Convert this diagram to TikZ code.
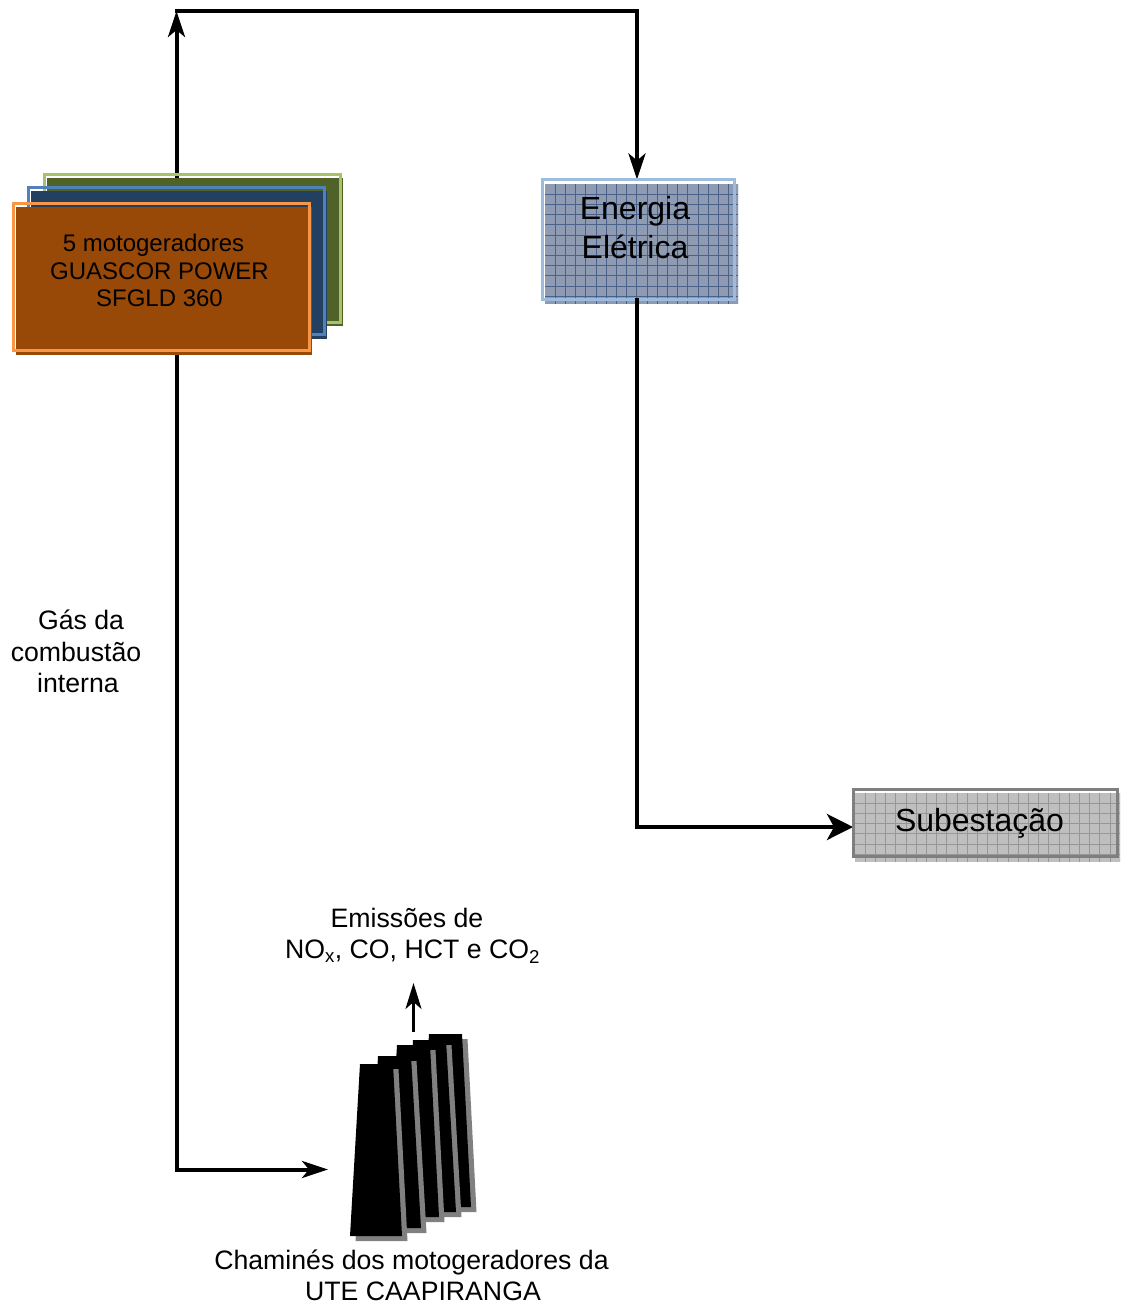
\documentclass[tikz,border=0pt]{standalone}
\usepackage{fontspec}
\setmainfont{Liberation Sans}
\usetikzlibrary{arrows.meta,calc}
\definecolor{brownF}{HTML}{984807}
\definecolor{orangeL}{HTML}{F79646}
\definecolor{navyF}{HTML}{244061}
\definecolor{blueL}{HTML}{4F81BD}
\definecolor{oliveF}{HTML}{4F6228}
\definecolor{greenL}{HTML}{A6C36A}
\definecolor{steelF}{HTML}{8E9BB3}
\definecolor{steelG}{HTML}{4A628A}
\definecolor{steelL}{HTML}{9DBBDD}
\definecolor{greyF}{HTML}{BFBFBF}
\definecolor{greyG}{HTML}{979797}
\definecolor{greyL}{HTML}{7F7F7F}
\definecolor{chimS}{HTML}{808080}
\pgfdeclarelayer{back}
\pgfsetlayers{back,main}
\tikzset{
  x=1pt,y=-1pt,
  boxline/.style={draw,line width=3pt,fill=none,inner sep=0pt,outer sep=0pt},
  label24/.style={font=\fontsize{24}{27.5}\selectfont,align=center,inner sep=0pt},
  label27/.style={font=\fontsize{26.67}{31.5}\selectfont,align=center,inner sep=0pt},
  label32/.style={font=\fontsize{32}{39}\selectfont,align=center,inner sep=0pt},
  flow/.style={line width=4pt,-{Stealth[length=26pt,width=#1,inset=7pt]}},
  flow/.default=17pt,
  plainline/.style={line width=4pt},
  chim/.style={fill=black},
  chimshadow/.style={fill=chimS},
}
\newcommand{\chimney}[6]{%
  \fill[chimshadow] (#1+5.5,#2+5) -- (#3+5.5,#2+5) -- (#5+5.5,#6+5) -- (#4+5.5,#6+5) -- cycle;
  \fill[chim] (#1,#2) -- (#3,#2) -- (#5,#6) -- (#4,#6) -- cycle;
}
\newcommand{\gridfill}[7]{%
  \fill[#5] (#1,#2) rectangle (#3,#4);
  \begin{scope}
    \clip (#1,#2) rectangle (#3,#4);
    \foreach \i in {1,...,#7} {
      \draw[#6,line width=0.7pt] ($(#1,#2)+(\i*10.2,0)$) -- ($(#1,#4)+(\i*10.2,0)$);
      \draw[#6,line width=0.7pt] ($(#1,#2)+(0,\i*10.2)$) -- ($(#3,#2)+(0,\i*10.2)$);
    }
  \end{scope}
}
\begin{document}
\begin{tikzpicture}
\useasboundingbox (0,0) rectangle (1123,1306);

% generator stack
\fill[oliveF] (47,178) rectangle (343,326);
\node[boxline,draw=greenL,minimum width=296pt,minimum height=148pt] (green) at (192.5,248) {};
\fill[navyF] (31,191) rectangle (327,339);
\node[boxline,draw=blueL,minimum width=296pt,minimum height=147pt] (blue) at (176.5,260.5) {};
\fill[brownF] (16,207) rectangle (312,355);
\node[boxline,draw=orangeL,minimum width=296pt,minimum height=147pt] (motor) at (161.5,277) {};
\node[label24] (motorText) at (159.5,270.5) {5 motogeradores\hspace*{12pt}\\GUASCOR POWER\\SFGLD 360};

% electrical box
\gridfill{545}{184}{738}{304}{steelF}{steelG}{19}
\node[boxline,draw=steelL,minimum width=192pt,minimum height=120pt] (energy) at (638.5,239.5) {};
\node[label32] (energyText) at (635,227.5) {Energia\\Elétrica};

% substation box
\gridfill{855}{793}{1120}{862}{greyF}{greyG}{26}
\node[boxline,draw=greyL,minimum width=264pt,minimum height=67pt] (sub) at (985,823) {};
\node[label32] (subText) at (979.5,823) {Subestação};

% chimneys
\chimney{429}{1034}{462}{419}{471}{1207}
\chimney{413}{1040}{446}{404}{456}{1212}
\chimney{397}{1045}{430}{387}{439}{1217}
\chimney{378}{1056}{411}{369}{421}{1228}
\chimney{360}{1064}{393}{350}{402}{1236}

% labels
\node[label27] (gasText) at (76,651.5) {\hspace*{10pt}Gás da\\combustão\\\hspace*{4pt}interna};
\node[label27,font=\fontsize{26.67}{31}\selectfont] (emisText) at (412.5,936) {\hspace*{-11pt}Emissões de\\NO\textsubscript{x}, CO, HCT e CO\textsubscript{2}};
\node[label27] (chimText) at (417,1275.5) {\hspace*{-11pt}Chaminés dos motogeradores da\\\hspace*{12pt}UTE CAAPIRANGA};

% connector anchor points
\coordinate (trunkTop) at (176.5,11);
\coordinate (trunkBase) at (176.5,1169.5);
\coordinate (elecX) at (637,11);
\coordinate (chimIn) at (328,1169.5);
\coordinate (stackTop) at (413.5,1032);
\coordinate (stackTip) at (413.5,983);
\coordinate (elecTurn) at (637,827);

\begin{pgfonlayer}{back}
  \draw[flow] ($(trunkTop |- green.north)+(0,8)$) -- (trunkTop);
  \draw[plainline,line cap=rect] (trunkTop) -- (elecX);
  \draw[flow] (elecX) -- (elecX |- energy.north);
  \draw[flow=26pt] (elecTurn) -- (elecTurn -| sub.west);
  \draw[plainline,line cap=rect] (trunkTop |- motor.south) -- (trunkBase);
  \draw[flow] (trunkBase) -- (chimIn);
  \draw[line width=2.4pt,-{Stealth[length=26pt,width=16pt,inset=7pt]}] (stackTop) -- (stackTip);
\end{pgfonlayer}
\draw[plainline,line cap=rect] (elecX |- energy.south) -- (elecTurn);
\end{tikzpicture}
\end{document}
